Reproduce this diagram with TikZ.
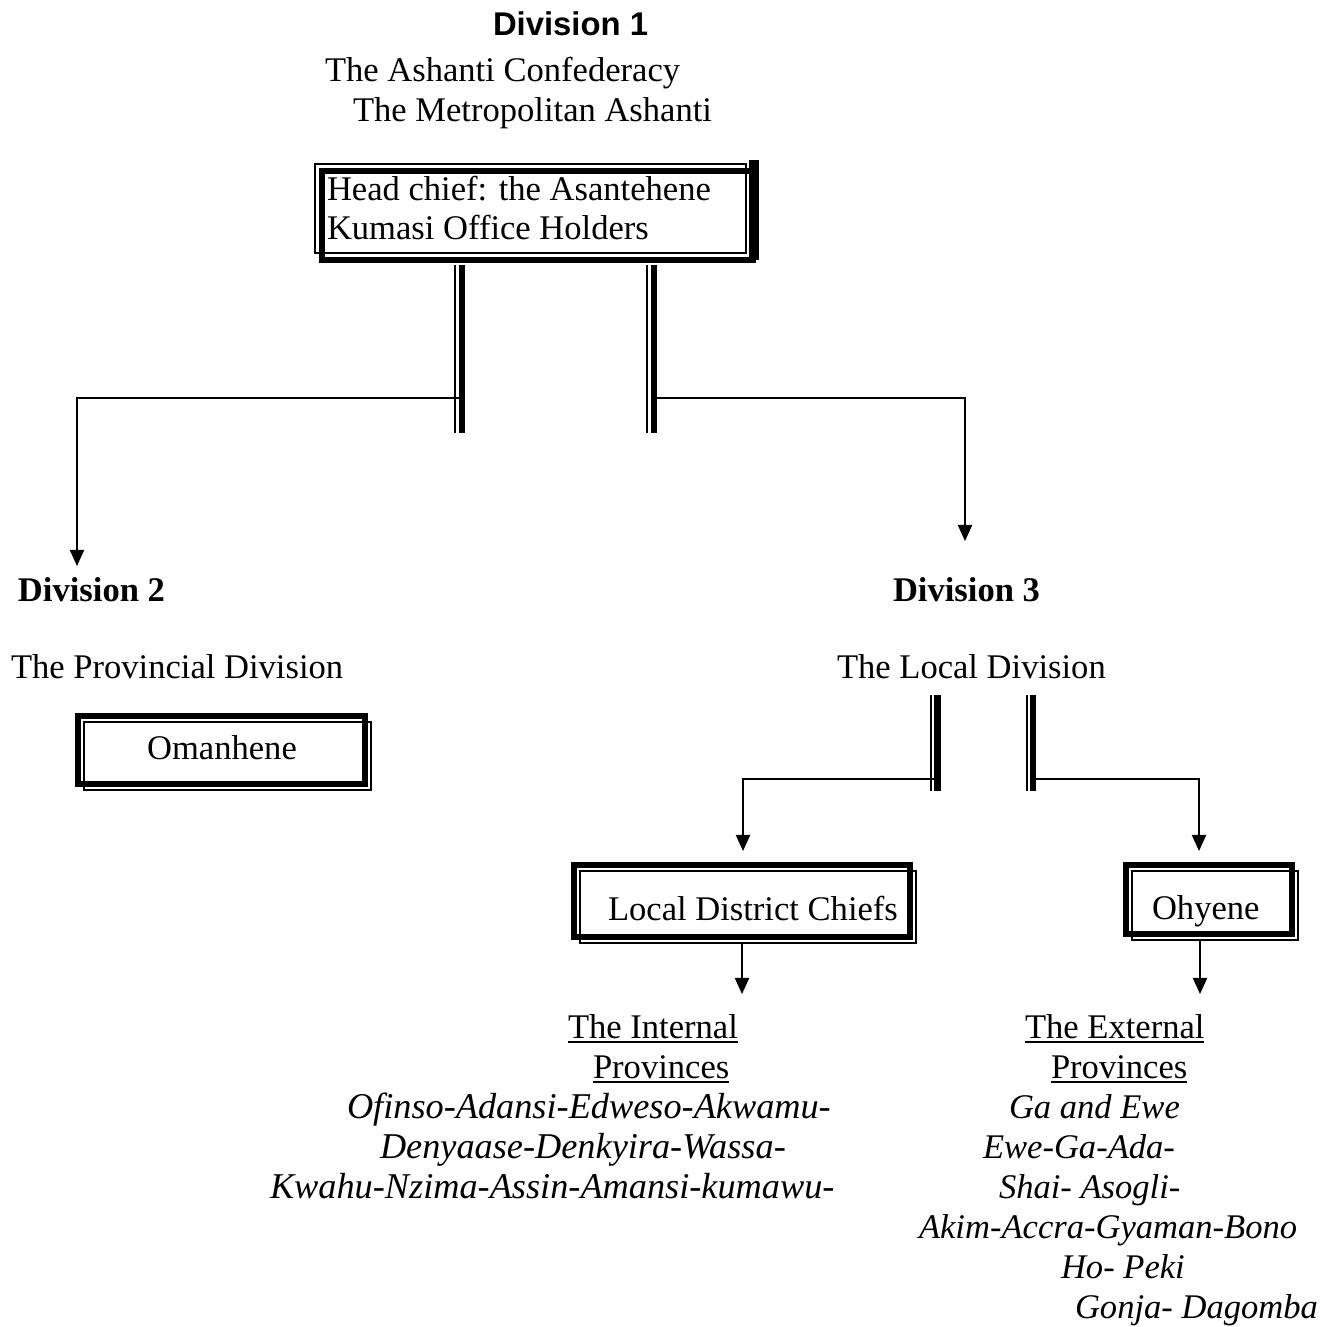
\documentclass[tikz,border=0pt]{standalone}
\usepackage{fontspec}
\setmainfont{Liberation Serif}
\newfontfamily\headsans{Liberation Sans}
\usetikzlibrary{arrows.meta,calc}
\begin{document}
\begin{tikzpicture}[x=0.3472pt,y=-0.3472pt,
  every node/.style={inner sep=0pt,outer sep=0pt,font=\fontsize{12}{14}\selectfont},
  txt/.style={anchor=base west},
  itl/.style={anchor=base west,font=\itshape\fontsize{12}{14}\selectfont},
  itlw/.style={anchor=base west,font=\itshape\fontsize{12.6}{14}\selectfont},
  thinl/.style={line width=0.7pt},
  thickl/.style={line width=2.4pt},
  boxthick/.style={draw,line width=2.3pt,rectangle},
  conn/.style={line width=0.7pt,-{Triangle[width=4.9pt,length=5.6pt]}},
  uline/.style={line width=0.6pt}
  ]
\useasboundingbox (0,0) rectangle (1334,1326);

% ---------- Division 1 ----------
\node[txt,font=\headsans\bfseries\fontsize{11.4}{13}\selectfont] (d1) at (493,35) {Division 1};
\node[txt] (d1a) at (325,81) {The Ashanti Confederacy};
\node[txt] (d1b) at (353,121) {The Metropolitan Ashanti};

\node[boxthick,minimum width={431*0.3472pt},minimum height={89*0.3472pt}] (head) at (537.5,215.5) {};
\draw[thinl] ($(head.north west)+(-7,-7)$) rectangle ($(head.south east)+(-7,-7)$);
\draw[line width=3.4pt] ($(head.north east)+(1,-11)$) -- ($(head.south east)+(1,0)$);
\node[txt] (h1) at (327,200) {Head chief: the Asantehene};
\node[txt] (h2) at (327,239) {Kumasi Office Holders};

% double bars under head box
\coordinate (j1) at (462,433);
\coordinate (j2) at (654,433);
\draw[thickl] ($(head.south -| j1)+(0,5)$) -- (j1);
\draw[thinl] ($(head.south -| j1)+(-7,5)$) -- ($(j1)+(-7,0)$);
\draw[thickl] ($(head.south -| j2)+(0,5)$) -- (j2);
\draw[thinl] ($(head.south -| j2)+(-7,5)$) -- ($(j2)+(-7,0)$);

\coordinate (k1) at (462,398);
\coordinate (k2) at (654,398);
\coordinate (a2) at (77,566);
\coordinate (a3) at (965,541);
\draw[conn] (k1) -| (a2);
\draw[conn] (k2) -| (a3);

% ---------- Division 2 ----------
\node[txt,font=\bfseries\fontsize{12}{14}\selectfont] (d2) at (18,601) {Division 2};
\node[txt] (d2a) at (11,678) {The Provincial Division};
\node[boxthick,minimum width={287*0.3472pt},minimum height={68*0.3472pt}] (oman) at (221.5,750) {};
\draw[thinl] ($(oman.north west)+(6,6)$) rectangle ($(oman.south east)+(6,6)$);
\node[anchor=base] (omt) at (222,759) {Omanhene};

% ---------- Division 3 ----------
\node[txt,font=\bfseries\fontsize{12}{14}\selectfont] (d3) at (893,601) {Division 3};
\node[txt] (d3a) at (837,678) {The Local Division};

\coordinate (m1) at (937.5,791);
\coordinate (m2) at (1033,791);
\coordinate (m1t) at (937.5,695);
\coordinate (m2t) at (1033,695);
\draw[thickl] (m1t) -- (m1);
\draw[thinl] ($(m1t)+(-6.5,0)$) -- ($(m1)+(-6.5,0)$);
\draw[thickl] (m2t) -- (m2);
\draw[thinl] ($(m2t)+(-6.5,0)$) -- ($(m2)+(-6.5,0)$);

\coordinate (n1) at (937.5,779);
\coordinate (n2) at (1033,779);
\coordinate (a4) at (743,851);
\coordinate (a5) at (1199,851);
\draw[conn] (n1) -| (a4);
\draw[conn] (n2) -| (a5);

\node[boxthick,minimum width={336*0.3472pt},minimum height={72*0.3472pt}] (ldc) at (742,901) {};
\draw[thinl] ($(ldc.north west)+(6,6)$) rectangle ($(ldc.south east)+(6,6)$);
\node[txt] (ldct) at (608,920) {Local District Chiefs};

\node[boxthick,minimum width={166*0.3472pt},minimum height={69*0.3472pt}] (ohy) at (1209,899.5) {};
\draw[thinl] ($(ohy.north west)+(6,6)$) rectangle ($(ohy.south east)+(6,6)$);
\node[txt] (ohyt) at (1152,919) {Ohyene};

\coordinate (a6) at (742,994);
\coordinate (a7) at (1200,994);
\draw[conn] ($(ldc.south)+(0,7)$) -- (a6);
\draw[conn] ($(ohy.south)+(-9,7)$) -- (a7);

% ---------- Internal provinces ----------
\node[txt] (int1) at (568,1038) {The Internal};
\node[txt] (int2) at (593,1078) {Provinces\ };
\draw[uline] ($(int1.base west)+(0,4)$) -- ($(int1.base east)+(0,4)$);
\draw[uline] ($(int2.base west)+(0,4)$) -- ($(int2.base east)+(0,4)$);
\node[itlw] (il1) at (347,1118) {Ofinso-Adansi-Edweso-Akwamu-};
\node[itlw] (il2) at (380,1158) {Denyaase-Denkyira-Wassa-};
\node[itlw] (il3) at (270,1198) {Kwahu-Nzima-Assin-Amansi-kumawu-};

% ---------- External provinces ----------
\node[txt] (ext1) at (1025,1038) {The External};
\node[txt] (ext2) at (1051,1078) {Provinces};
\draw[uline] ($(ext1.base west)+(0,4)$) -- ($(ext1.base east)+(0,4)$);
\draw[uline] ($(ext2.base west)+(0,4)$) -- ($(ext2.base east)+(0,4)$);
\node[itl] (el1) at (1009,1118) {Ga and Ewe};
\node[itl] (el2) at (983,1158) {Ewe-Ga-Ada-};
\node[itl] (el3) at (999,1198) {Shai- Asogli-};
\node[itl] (el4) at (919,1238) {Akim-Accra-Gyaman-Bono};
\node[itl] (el5) at (1061,1278) {Ho- Peki};
\node[itl] (el6) at (1075,1318) {Gonja- Dagomba};
\end{tikzpicture}
\end{document}
